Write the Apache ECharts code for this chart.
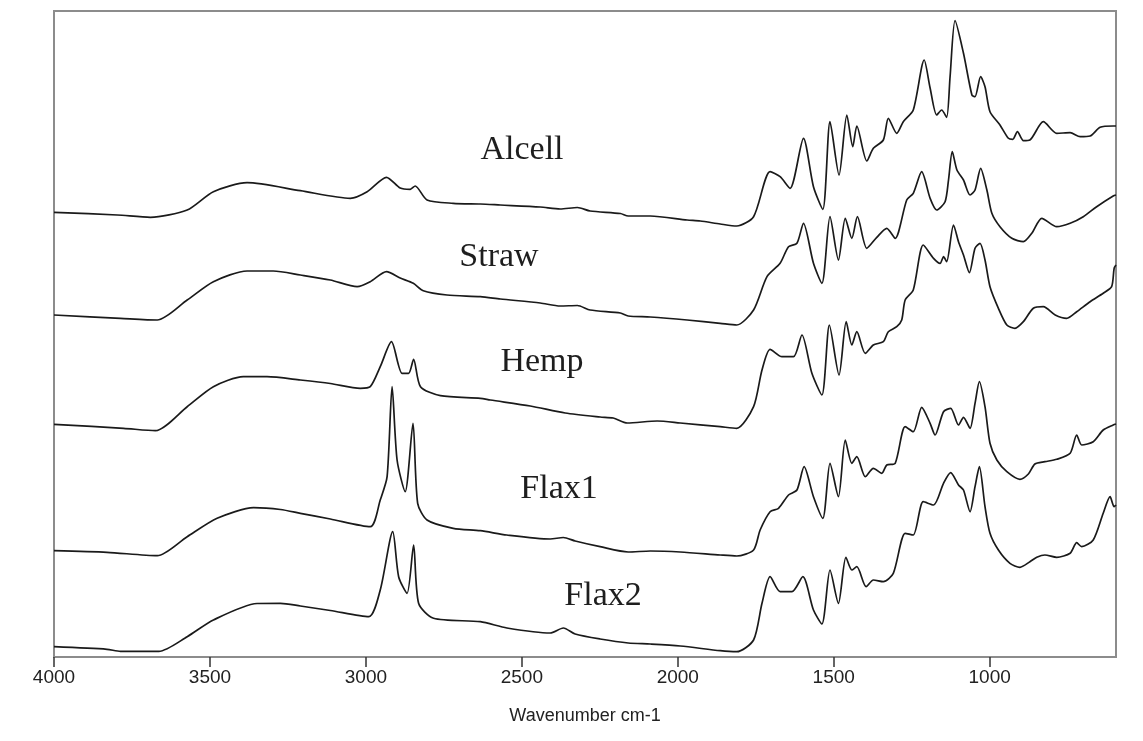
<!DOCTYPE html>
<html>
<head>
<meta charset="utf-8">
<script src="https://cdn.jsdelivr.net/npm/echarts@6/dist/echarts.min.js"></script>
<style>
html,body{margin:0;padding:0;background:#fff;}
#chart{width:1143px;height:741px;}
</style>
</head>
<body>
<div id="chart"></div>
<script>
// FTIR spectra: [wavenumber (cm-1), offset absorbance (a.u.)]
const seriesNames = ['Alcell', 'Straw', 'Hemp', 'Flax1', 'Flax2'];
const tickValues = [4000, 3500, 3000, 2500, 2000, 1500, 1000];
const axisTitle = 'Wavenumber cm-1';

const alcell = [[4000,4.447],[3797,4.42],[3691,4.397],[3573,4.47],[3489,4.653],[3381,4.743],[3210,4.663],[3050,4.587],[2996,4.653],[2934,4.797],[2890,4.69],[2858,4.677],[2842,4.71],[2804,4.57],[2720,4.537],[2633,4.53],[2569,4.52],[2441,4.50],[2377,4.48],[2322,4.495],[2281,4.46],[2184,4.435],[2159,4.41],[2088,4.41],[1970,4.37],[1928,4.36],[1864,4.33],[1811,4.31],[1757,4.403],[1704,4.853],[1672,4.803],[1640,4.687],[1597,5.187],[1565,4.703],[1535,4.477],[1512,5.353],[1483,4.82],[1458,5.42],[1439,5.103],[1426,5.31],[1394,4.96],[1373,5.087],[1341,5.17],[1325,5.387],[1298,5.237],[1277,5.353],[1245,5.47],[1210,5.97],[1191,5.69],[1170,5.42],[1154,5.47],[1138,5.397],[1127,5.803],[1111,6.363],[1084,6.037],[1057,5.62],[1047,5.603],[1029,5.803],[1015,5.703],[999,5.453],[967,5.32],[940,5.187],[926,5.177],[911,5.253],[892,5.163],[871,5.17],[828,5.353],[785,5.237],[742,5.243],[710,5.203],[678,5.21],[646,5.297],[604,5.31],[595,5.31]];

const straw = [[4000,3.42],[3787,3.387],[3669,3.37],[3573,3.57],[3489,3.753],[3381,3.86],[3297,3.86],[3210,3.82],[3114,3.77],[3028,3.703],[2986,3.753],[2934,3.853],[2890,3.79],[2848,3.737],[2816,3.663],[2740,3.62],[2633,3.603],[2569,3.58],[2441,3.54],[2377,3.51],[2322,3.515],[2281,3.47],[2184,3.44],[2159,3.41],[2088,3.40],[1970,3.37],[1864,3.337],[1811,3.32],[1757,3.47],[1714,3.803],[1672,3.937],[1645,4.103],[1618,4.137],[1597,4.337],[1565,3.937],[1538,3.737],[1512,4.403],[1485,3.97],[1463,4.387],[1442,4.187],[1424,4.403],[1394,4.087],[1362,4.197],[1330,4.287],[1303,4.187],[1266,4.57],[1245,4.637],[1218,4.853],[1191,4.587],[1170,4.47],[1143,4.553],[1132,4.77],[1120,5.053],[1105,4.87],[1084,4.77],[1063,4.62],[1047,4.67],[1029,4.887],[1009,4.67],[993,4.437],[967,4.303],[929,4.187],[892,4.153],[865,4.237],[833,4.387],[785,4.303],[742,4.337],[700,4.403],[657,4.503],[604,4.61],[595,4.62]];

const hemp = [[4000,2.327],[3777,2.287],[3675,2.263],[3573,2.503],[3489,2.703],[3393,2.803],[3317,2.803],[3210,2.77],[3114,2.735],[3018,2.687],[2986,2.703],[2954,2.903],[2918,3.153],[2884,2.837],[2863,2.837],[2847,2.977],[2825,2.703],[2761,2.613],[2633,2.587],[2601,2.57],[2473,2.51],[2361,2.44],[2249,2.40],[2207,2.39],[2162,2.34],[2066,2.36],[1992,2.34],[1864,2.303],[1811,2.287],[1757,2.503],[1730,2.87],[1704,3.077],[1666,3.003],[1629,3.003],[1602,3.22],[1570,2.837],[1538,2.62],[1514,3.32],[1483,2.82],[1460,3.353],[1442,3.12],[1426,3.253],[1399,3.037],[1373,3.12],[1341,3.153],[1325,3.253],[1298,3.303],[1282,3.37],[1271,3.57],[1245,3.67],[1213,4.12],[1180,3.987],[1159,3.937],[1148,4.003],[1138,3.953],[1116,4.32],[1100,4.153],[1084,4.02],[1065,3.843],[1047,4.087],[1031,4.137],[1015,3.97],[999,3.703],[972,3.487],[945,3.32],[919,3.287],[892,3.353],[860,3.487],[828,3.503],[790,3.42],[753,3.387],[721,3.453],[678,3.553],[636,3.637],[609,3.703],[601,3.887],[595,3.92]];

const flax1 = [[4000,1.063],[3830,1.047],[3669,1.013],[3573,1.203],[3477,1.387],[3360,1.493],[3274,1.475],[3210,1.437],[3114,1.38],[2986,1.303],[2954,1.57],[2932,1.803],[2916,2.703],[2900,1.97],[2874,1.653],[2849,2.337],[2834,1.537],[2804,1.37],[2720,1.287],[2633,1.263],[2548,1.22],[2409,1.18],[2367,1.195],[2329,1.16],[2249,1.103],[2159,1.05],[2088,1.06],[1992,1.05],[1864,1.02],[1811,1.01],[1757,1.07],[1736,1.27],[1704,1.453],[1677,1.487],[1645,1.62],[1618,1.67],[1595,1.903],[1565,1.603],[1535,1.387],[1512,1.937],[1485,1.603],[1463,2.17],[1442,1.937],[1426,2.003],[1399,1.803],[1373,1.887],[1346,1.837],[1330,1.92],[1303,1.937],[1271,2.303],[1245,2.253],[1218,2.497],[1191,2.337],[1175,2.22],[1148,2.453],[1125,2.487],[1100,2.32],[1084,2.397],[1063,2.287],[1047,2.537],[1033,2.753],[1015,2.503],[999,2.137],[977,1.97],[945,1.853],[903,1.777],[876,1.83],[855,1.93],[823,1.953],[785,1.977],[742,2.037],[721,2.22],[705,2.12],[668,2.153],[636,2.27],[604,2.32],[595,2.33]];

const flax2 = [[4000,0.103],[3830,0.077],[3787,0.057],[3664,0.057],[3573,0.203],[3489,0.37],[3349,0.535],[3274,0.537],[3210,0.51],[3114,0.465],[2991,0.403],[2954,0.67],[2914,1.253],[2895,0.803],[2868,0.637],[2847,1.12],[2831,0.537],[2783,0.387],[2633,0.353],[2548,0.29],[2409,0.24],[2367,0.29],[2329,0.23],[2249,0.18],[2159,0.14],[2088,0.13],[1992,0.11],[1864,0.063],[1811,0.053],[1757,0.17],[1730,0.537],[1704,0.803],[1672,0.653],[1634,0.653],[1599,0.803],[1565,0.47],[1538,0.33],[1512,0.87],[1485,0.537],[1461,0.997],[1442,0.87],[1426,0.903],[1396,0.703],[1373,0.77],[1341,0.753],[1309,0.837],[1271,1.237],[1245,1.22],[1213,1.553],[1180,1.52],[1148,1.737],[1125,1.843],[1100,1.72],[1084,1.67],[1063,1.453],[1047,1.703],[1033,1.903],[1015,1.503],[999,1.237],[972,1.07],[935,0.937],[903,0.897],[871,0.953],[849,0.997],[823,1.02],[785,0.997],[742,1.037],[721,1.143],[705,1.103],[668,1.17],[636,1.437],[614,1.603],[601,1.503],[595,1.52]];

const spectra = [alcell, straw, hemp, flax1, flax2];

const chart = echarts.init(document.getElementById('chart'), null, {renderer: 'canvas'});

const labelPos = [[522, 150], [499, 257], [542, 362], [559, 489], [603, 596]];

chart.setOption({
  animation: false,
  backgroundColor: '#ffffff',
  grid: {left: 54, right: 27, top: 11, bottom: 84, show: true, borderColor: '#8c8c8c', borderWidth: 2, backgroundColor: 'transparent'},
  xAxis: {
    type: 'value', min: 595, max: 4000, inverse: true,
    name: axisTitle, nameLocation: 'middle', nameGap: 50,
    nameTextStyle: {fontFamily: 'Liberation Sans, Arial, sans-serif', fontSize: 18, color: '#222'},
    axisLine: {show: true, lineStyle: {color: '#8c8c8c', width: 2}},
    axisTick: {show: true, inside: false, length: 10, customValues: tickValues, lineStyle: {color: '#333', width: 1.5}},
    axisLabel: {show: true, margin: 11, customValues: tickValues, formatter: v => String(v), fontFamily: 'Liberation Sans, Arial, sans-serif', fontSize: 19, color: '#222'},
    splitLine: {show: false}
  },
  yAxis: {
    type: 'value', min: 0, max: 6.46,
    axisLine: {show: true, lineStyle: {color: '#8c8c8c', width: 2}},
    axisTick: {show: false}, axisLabel: {show: false}, splitLine: {show: false}
  },
  graphic: seriesNames.map((n, i) => ({
    type: 'text', x: labelPos[i][0], y: labelPos[i][1],
    style: {text: n, fontFamily: 'Liberation Serif, Times New Roman, serif', fontSize: 34, fill: '#1e1e1e', textAlign: 'center', textVerticalAlign: 'middle'}
  })),
  series: spectra.map((d, i) => ({
    name: seriesNames[i], type: 'line', data: d, showSymbol: false, smooth: 0.25,
    lineStyle: {color: '#1a1a1a', width: 1.7}
  }))
});
</script>
</body>
</html>
